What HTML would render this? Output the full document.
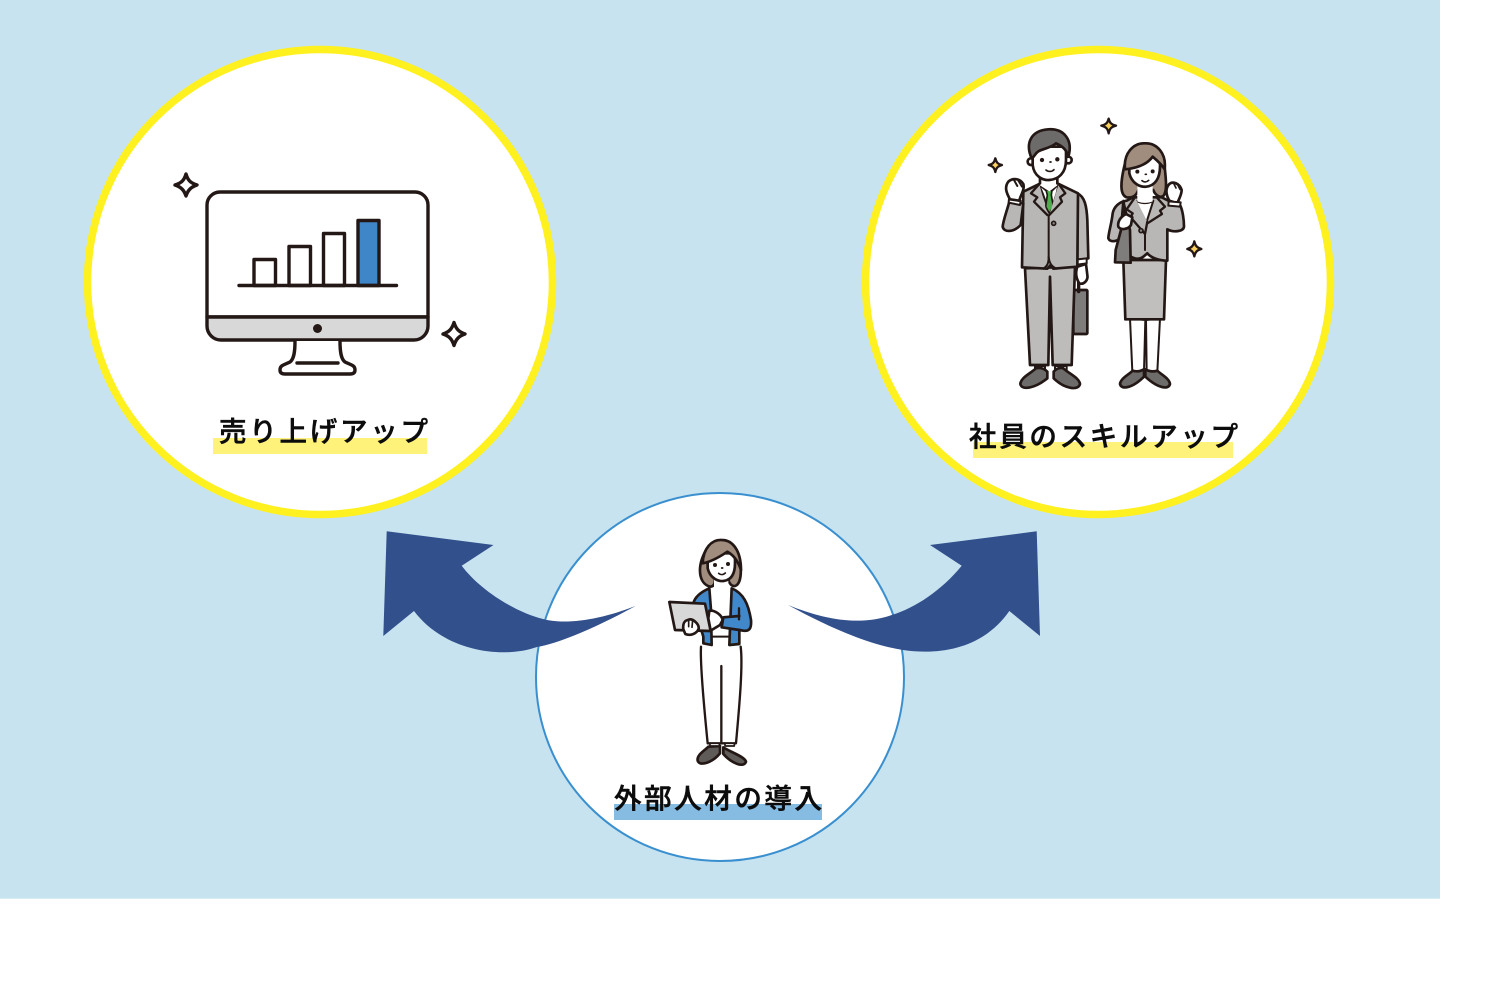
<!DOCTYPE html>
<html lang="ja">
<head>
<meta charset="utf-8">
<style>
html,body{margin:0;padding:0;background:#fff}
svg{display:block}
text{font-family:"Liberation Sans","Noto Sans CJK JP",sans-serif;font-weight:500;fill:#0c0c0c;stroke:#0c0c0c;stroke-width:.55px}
.k{stroke:#231815;stroke-linejoin:round;stroke-linecap:round}
</style>
</head>
<body>
<svg width="1506" height="1007" viewBox="0 0 1506 1007" xmlns="http://www.w3.org/2000/svg">
<rect width="1506" height="1007" fill="#fff"/>
<rect width="1440" height="898.700" fill="#c7e3f0"/>

<!-- circles -->
<circle cx="320" cy="282" r="232.500" fill="#fff" stroke="#fff01f" stroke-width="7.500"/>
<circle cx="1098" cy="282" r="232.500" fill="#fff" stroke="#fff01f" stroke-width="7.500"/>
<circle cx="720" cy="677" r="184" fill="#fff" stroke="#3a8fcf" stroke-width="2"/>

<!-- arrows -->
<path fill="#32508c" d="M386.700 531.300L493.500 545L461.700 565.700C480 590 515 612 543 619C565 625 600 620 636 605.700C595 628 560 643 537 647C503 659 445 652 414 611L383.300 636Z"/>
<path fill="#32508c" d="M1036.700 531.300L930 545L961.700 565.700C942 590 915 608 891.700 615C860 626 825 620 788 605C830 628 870 645 903 650C945 656 985 646 1009.300 611L1040 636Z"/>

<!-- monitor -->
<g class="k" fill="none" stroke-width="3.400">
<path d="M207 317V205a13 13 0 0 1 13-13H415a13 13 0 0 1 13 13V317Z" fill="#fff"/>
<path d="M207 317H428V326a14 14 0 0 1-14 14H221a14 14 0 0 1-14-14Z" fill="#d8d8d8"/>
<path d="M295 341C295 352 294 359 290 362C284 365 280 365 280 370C280 373 282 374 285 374H350C353 374 355 373 355 370C355 365 351 365 345 362C341 359 340 352 340 341" fill="#fff"/>
<path d="M297 363H338"/>
<rect x="254" y="259.500" width="21.500" height="26" fill="#fff"/>
<rect x="289" y="246.500" width="21.500" height="39" fill="#fff"/>
<rect x="323.500" y="233.500" width="21" height="52" fill="#fff"/>
<rect x="358" y="220.500" width="21" height="65" fill="#3f86c8"/>
<path d="M239 285.500H396.500"/>
<path d="M186 174C188 181 191 183 197 185C191 187 188 190 186 196C184 190 181 187 175 185C181 183 184 181 186 174Z"/>
<path d="M454 322.500C456 329 459 332 465 334C459 336 456 339 454 345.500C452 339 449 336 443 334C449 332 452 329 454 322.500Z"/>
</g>
<circle cx="317.500" cy="328.500" r="4.500" fill="#231815"/>

<!-- labels: left -->
<rect x="213" y="438" width="214" height="16" fill="#fff27a"/>
<text x="219" y="441" font-size="27.500" textLength="209" lengthAdjust="spacing">売り上げアップ</text>

<!-- labels: right -->
<rect x="973" y="442" width="260" height="16" fill="#fff27a"/>
<text x="969" y="446" font-size="27.500" textLength="269" lengthAdjust="spacing">社員のスキルアップ</text>

<!-- labels: bottom -->
<rect x="614" y="804" width="208" height="16" fill="#86bbe2"/>
<text x="614" y="808" font-size="27.500" textLength="208" lengthAdjust="spacing">外部人材の導入</text>

<!-- business people -->
<g transform="translate(960 110) scale(.33333)" class="k" stroke-width="8">
<!-- sparkles -->
<g fill="#fbd25f" stroke-width="7">
<path d="M106 145C109 157 113 162 126 165C113 169 109 173 106 186C103 173 99 169 86 165C99 162 103 157 106 145Z"/>
<path d="M446 26C449 38 453 43 468 47C453 51 449 56 446 70C443 56 439 51 424 47C439 43 443 38 446 26Z"/>
<path d="M703 394C706 407 710 412 724 417C710 421 706 426 703 439C700 426 696 421 682 417C696 412 700 407 703 394Z"/>
</g>
<!-- man: briefcase -->
<rect x="340" y="540" width="42" height="132" rx="3" fill="#7e7d7c"/>
<path d="M356 545V505" stroke-width="10"/>
<path d="M352 470C345 490 348 505 358 520C372 525 385 510 382 495L378 462Z" fill="#fff"/>
<!-- man: pants -->
<path d="M195 475L210 765H265L270 500L278 765H335L345 470Z" fill="#bdbcbb"/>
<path d="M225 768V780H255V768ZM285 768V780H320V768Z" fill="#fff" stroke-width="6"/>
<!-- man: shoes -->
<path d="M228 775C212 790 182 803 181 822C185 842 225 835 262 805L262 785C252 775 240 772 228 775Z" fill="#6d6c6a"/>
<path d="M310 775C325 790 358 803 360 822C356 842 315 838 281 805L281 785C290 775 300 772 310 775Z" fill="#6d6c6a"/>
<!-- man: right arm -->
<path d="M352 250C375 260 380 290 382 330L385 445L352 452Z" fill="#b8b7b6"/>
<path d="M352 448L380 445V460L352 464Z" fill="#fff" stroke-width="6"/>
<!-- man: torso -->
<path d="M238 222L190 245L186 472L262 476L272 465L280 476L352 470L354 250L296 222Z" fill="#b8b7b6"/>
<path d="M236 222L268 250L296 222L290 250L270 312L248 250Z" fill="#fff" stroke-width="6"/>
<path d="M258 240H276L274 255L280 290L268 310L257 290L262 255Z" fill="#4cae4a" stroke-width="5"/>
<path d="M238 222L213 250L232 262L222 275L262 315" fill="#b8b7b6" stroke-width="7"/>
<path d="M296 222L316 250L300 262L306 275L268 315" fill="#b8b7b6" stroke-width="7"/>
<path d="M266 318V440C266 460 262 468 250 476" fill="none" stroke-width="6"/>
<path d="M266 440C268 460 275 470 290 476" fill="none" stroke-width="6"/>
<circle cx="281" cy="340" r="6" fill="#8a8988" stroke-width="5"/>
<!-- man: left arm & fist -->
<path d="M148 275C140 305 130 330 128 350C132 368 160 368 182 345L190 280Z" fill="#b8b7b6"/>
<path d="M147 265L182 272L180 285L146 278Z" fill="#fff" stroke-width="6"/>
<path d="M150 268C140 250 132 232 145 215C158 203 180 205 190 222C195 240 180 258 178 272Z" fill="#fff"/>
<path d="M162 210L172 228M174 210L186 230" fill="none" stroke-width="6"/>
<!-- man: head -->
<path d="M240 200V226L268 244L292 226V200Z" fill="#fff" stroke="none"/>
<path d="M240 200V220M292 200V220" fill="none"/>
<circle cx="213" cy="155" r="10" fill="#fff"/>
<circle cx="325" cy="150" r="10" fill="#fff"/>
<path d="M218 125V165C222 200 250 212 268 210C295 208 318 190 318 150V110H230Z" fill="#fff"/>
<path d="M215 145C195 100 212 62 265 58C312 55 340 90 325 140C322 125 312 110 288 100C272 115 240 118 234 125C225 130 226 138 215 145Z" fill="#6c6b6a"/>
<circle cx="246" cy="150" r="6.500" fill="#231815" stroke="none"/>
<circle cx="292" cy="148" r="6.500" fill="#231815" stroke="none"/>
<path d="M270 156h3" stroke-width="5"/>
<path d="M258 180C265 186 275 186 282 179" fill="none" stroke-width="5"/>

<!-- woman: legs -->
<path d="M510 625L517 785H552L556 630ZM558 630L560 785H592L600 625Z" fill="#fff" stroke-width="6"/>
<!-- woman: shoes -->
<path d="M518 782C505 795 482 805 480 822C485 842 520 832 552 800V778C540 785 528 785 518 782Z" fill="#6d6c6a"/>
<path d="M592 782C605 795 628 805 630 822C625 842 590 832 556 800V778C568 785 582 785 592 782Z" fill="#6d6c6a"/>
<!-- woman: skirt -->
<path d="M490 450L496 628H612L618 450Z" fill="#c0bfbe"/>
<!-- woman: hair back -->
<path d="M495 160C480 220 480 255 500 262C520 265 530 255 535 240H580C585 255 600 265 610 258C625 240 615 190 612 150Z" fill="#a08d7d"/>
<!-- woman: torso -->
<path d="M500 272C478 275 462 290 458 310C455 340 445 370 445 385C450 398 470 395 480 385L500 430C515 445 535 452 550 440L562 430C575 445 600 452 622 452V358C640 368 670 365 672 350C672 330 668 300 660 285L625 272L605 262H520Z" fill="#b8b7b6"/>
<path d="M528 272C545 282 565 282 580 272L560 335L545 325Z" fill="#fff" stroke-width="6"/>
<path d="M525 262L500 298L518 310L512 322L555 372L562 335" fill="#b8b7b6" stroke-width="7"/>
<path d="M590 262L615 290L600 302L606 312L562 340" fill="#b8b7b6" stroke-width="7"/>
<path d="M555 372V420" fill="none" stroke-width="6"/>
<circle cx="543" cy="362" r="6" fill="#8a8988" stroke-width="5"/>
<!-- woman: bag -->
<path d="M490 275L483 360L467 420L465 457L512 458L510 360Z" fill="#7e7d7c"/>
<path d="M490 272C492 300 495 320 500 345" fill="none" stroke-width="6"/>
<path d="M498 312C482 320 472 335 475 350C482 362 505 358 513 345L517 322Z" fill="#fff"/>
<!-- woman: fist -->
<path d="M628 272C618 255 615 235 628 222C640 212 660 222 665 240C665 255 655 270 652 280Z" fill="#fff"/>
<path d="M626 274L662 277L660 290L625 287Z" fill="#fff" stroke-width="6"/>
<path d="M640 218L648 234M652 222L660 238" fill="none" stroke-width="5"/>
<!-- woman: head -->
<path d="M532 228V274C545 280 565 280 578 274V228Z" fill="#fff" stroke="none"/>
<path d="M508 160V190C515 220 540 232 558 230C585 228 600 205 600 170V140H520Z" fill="#fff"/>
<path d="M495 178C490 130 520 98 555 100C590 98 620 130 614 178C606 165 590 150 578 140C560 165 525 175 495 178Z" fill="#a08d7d"/>
<circle cx="532" cy="185" r="6" fill="#231815" stroke="none"/>
<circle cx="578" cy="184" r="6" fill="#231815" stroke="none"/>
<path d="M556 193h3" stroke-width="5"/>
<path d="M546 212C552 217 560 217 566 211" fill="none" stroke-width="5"/>
</g>

<!-- consultant -->
<g transform="translate(640 530) scale(.33333)" class="k" stroke-width="8">
<!-- shoes -->
<path d="M205 650C190 665 170 675 173 692C180 712 220 695 240 670V648Z" fill="#5f5b58"/>
<path d="M250 652C268 665 315 680 318 695C312 715 275 700 250 672Z" fill="#5f5b58"/>
<!-- pants -->
<path d="M183 350C180 400 195 560 203 640H288C295 560 310 410 302 350M244 408V640" fill="none" stroke-width="7"/>
<path d="M210 648H238V640H210ZM255 648H283V640H255Z" fill="#fff" stroke-width="5"/>
<!-- hair back -->
<path d="M198 60C170 110 175 160 210 170C222 170 225 160 225 150H265C268 160 275 170 285 168C310 160 305 90 290 60Z" fill="#a08d7d"/>
<!-- shirt -->
<path d="M210 175C225 186 260 186 275 175L268 320H215Z" fill="#fff" stroke="none"/>
<path d="M216 320H268" stroke-width="6"/>
<!-- cardigan -->
<path d="M208 175C185 185 165 200 160 220L190 320V340L215 345L213 240Z" fill="#4188cb"/>
<path d="M275 175C310 190 325 220 333 270C335 295 328 305 310 302L298 300V342L268 345Z" fill="#4188cb"/>
<path d="M298 258L250 262L245 292L298 300" fill="#4188cb"/>
<path d="M297 268V235" fill="none" stroke-width="7"/>
<!-- tablet -->
<path d="M88 216L195 221L212 303L105 300Z" fill="#d8d8d8"/>
<path d="M130 298C128 282 133 272 143 270C158 262 178 283 176 296C170 312 150 318 136 312Z" fill="#fff"/>
<path d="M146 268V290M158 270L156 292" fill="none" stroke-width="5"/>
<!-- pointing hand -->
<path d="M208 242C225 240 245 255 248 270L240 285L212 302L205 265Z" fill="#fff"/>
<!-- head -->
<path d="M222 148V178C235 186 255 186 265 178V148Z" fill="#fff" stroke="none"/>
<path d="M203 80V115C210 145 235 155 250 153C275 150 285 130 285 100V70H210Z" fill="#fff"/>
<path d="M188 100C190 55 215 28 245 30C280 30 303 65 303 120C295 95 280 75 262 65C240 80 215 95 188 100Z" fill="#a08d7d"/>
<circle cx="225" cy="105" r="6" fill="#231815" stroke="none"/>
<circle cx="264" cy="102" r="6" fill="#231815" stroke="none"/>
<path d="M245 114h3" stroke-width="5"/>
<path d="M236 130C242 135 250 135 256 129" fill="none" stroke-width="5"/>
</g>
</svg>
</body>
</html>
